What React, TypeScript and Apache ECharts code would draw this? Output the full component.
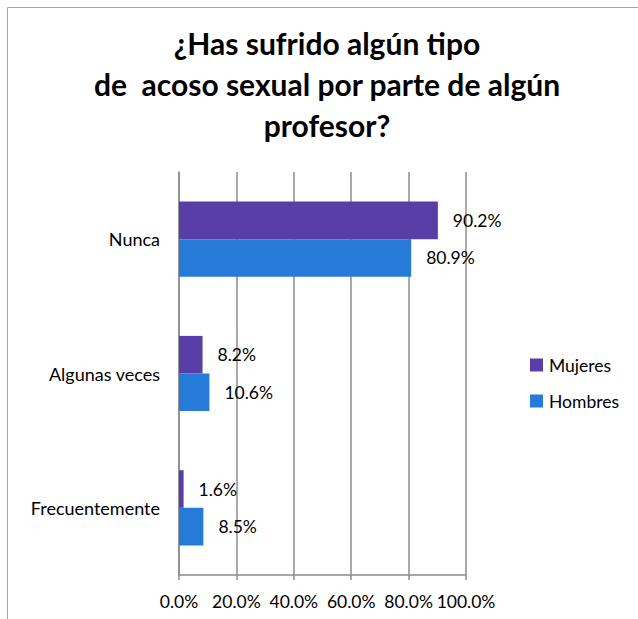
import React, { useEffect, useRef } from "react";
import * as echarts from "echarts";

const categories = ["Nunca", "Algunas veces", "Frecuentemente"];
const mujeres = [90.2, 8.2, 1.6];
const hombres = [80.9, 10.6, 8.5];
const xTicks = { min: 0, max: 100, interval: 20 };

const TITLE = "¿Has sufrido algún tipo\nde  acoso sexual por parte de algún\nprofesor?";
const FONT = "Lato, sans-serif";
const FS = 17.5;

export default function App() {
  const ref = useRef<HTMLDivElement>(null);
  useEffect(() => {
    if (!ref.current) return;
    const chart = echarts.init(ref.current, undefined, { renderer: "svg" });
    const label = {
      show: true,
      position: "right",
      distance: 15,
      fontSize: FS,
      fontFamily: FONT,
      color: "#000",
      formatter: (p: any) => Number(p.value).toFixed(1) + "%",
    };
    chart.setOption({
      animation: false,
      backgroundColor: "#fff",
      title: {
        text: TITLE,
        left: 327,
        top: 22,
        padding: 0,
        textAlign: "center",
        textStyle: {
          fontFamily: FONT,
          fontWeight: "bold",
          fontSize: 30,
          lineHeight: 41,
          color: "#000",
        },
      },
      legend: {
        orient: "vertical",
        left: 530,
        top: 356,
        padding: 0,
        itemWidth: 13,
        itemHeight: 13,
        itemGap: 18,
        icon: "rect",
        textStyle: { fontFamily: FONT, fontSize: FS, color: "#000", padding: [0, 0, 0, 1] },
        data: ["Mujeres", "Hombres"],
      },
      grid: { left: 179, right: 172, top: 172, bottom: 44, containLabel: false },
      xAxis: {
        type: "value",
        min: xTicks.min,
        max: xTicks.max,
        interval: xTicks.interval,
        axisLine: { show: true, lineStyle: { color: "#8c8c8c", width: 1.5 } },
        axisTick: { show: true, length: 5, lineStyle: { color: "#8c8c8c", width: 1.5 } },
        splitLine: { show: true, lineStyle: { color: "#8c8c8c", width: 1.5 } },
        axisLabel: {
          margin: 17,
          fontFamily: FONT,
          fontSize: FS,
          color: "#000",
          formatter: (v: number) => v.toFixed(1) + "%",
        },
      },
      yAxis: {
        type: "category",
        inverse: true,
        data: categories,
        axisLine: { show: true, lineStyle: { color: "#8c8c8c", width: 1.5 } },
        axisTick: { show: false },
        axisLabel: { margin: 19, fontFamily: FONT, fontSize: 18, color: "#000" },
      },
      series: [
        {
          name: "Mujeres",
          type: "bar",
          data: mujeres,
          barGap: "0%",
          barCategoryGap: "44%",
          itemStyle: { color: "#5a3ea8" },
          label,
        },
        {
          name: "Hombres",
          type: "bar",
          data: hombres,
          barGap: "0%",
          barCategoryGap: "44%",
          itemStyle: { color: "#267ad8" },
          label,
        },
      ],
      graphic: [
        {
          type: "rect",
          shape: { x: 7.5, y: 7.5, width: 700, height: 700 },
          style: { fill: "none", stroke: "#a6a6a6", lineWidth: 1 },
          silent: true,
        },
      ],
    });
    return () => chart.dispose();
  }, []);
  return (
    <div
      ref={ref}
      style={{ position: "absolute", left: 0, top: 0, width: 638, height: 619 }}
    />
  );
}
